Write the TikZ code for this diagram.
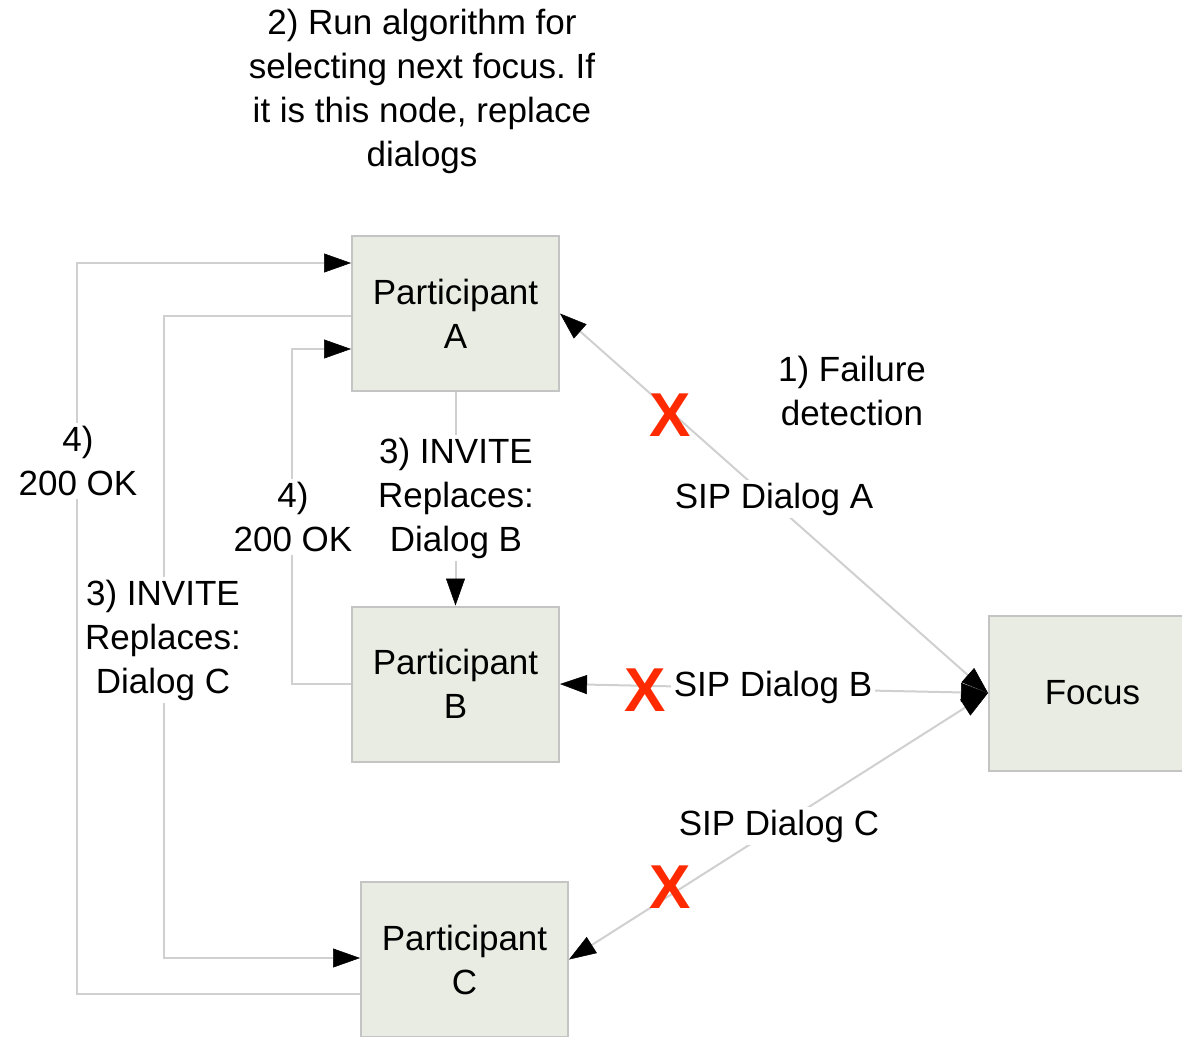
\documentclass[tikz,border=0pt]{standalone}
\usepackage{fontspec}
\setmainfont{Liberation Sans}
\usetikzlibrary{arrows.meta}
\definecolor{boxfill}{HTML}{E9ECE2}
\definecolor{boxline}{HTML}{C4C4C4}
\definecolor{linegray}{HTML}{D0D0D0}
\definecolor{xred}{HTML}{FF2A00}
\newcommand{\dfont}{\fontsize{35}{44}\selectfont}
\newcommand{\xfont}{\fontsize{62}{62}\selectfont\bfseries}
\frenchspacing
\begin{document}
\begin{tikzpicture}[x=1pt,y=-1pt,
  >={Triangle[length=27pt,width=19pt,color=black,fill=black,line width=0.5pt]},
  box/.style={draw=boxline,line width=2pt,fill=boxfill,minimum width=207pt,minimum height=155pt,inner sep=0pt,align=center,font=\dfont},
  conn/.style={draw=linegray,line width=2pt},
  lbl/.style={fill=white,align=center,inner sep=3pt,font=\dfont},
  txt/.style={align=center,inner sep=0pt,font=\dfont},
  xmark/.style={text=xred,inner sep=0pt,font=\xfont}]
\useasboundingbox (0,0) rectangle (1182,1036);
\fill[white] (0,0) rectangle (1182,1036);

\node[box] (A) at (455.5,313.5) {Participant\\A};
\node[box] (B) at (455.5,684) {Participant\\B};
\node[box] (C) at (464.5,959.5) {Participant\\C};
\node[box] (F) at (1092.5,693) {Focus};

% orthogonal connectors
\draw[conn,->] ([yshift=-34pt]C.west) -- ++(-283,0) |- ([yshift=50.5pt]A.west);
\draw[conn,->] ([yshift=-2.5pt]A.west) -- ++(-187,0) |- ([yshift=1.5pt]C.west);
\draw[conn,->] (B.west) -- ++(-59,0) |- ([yshift=-35.5pt]A.west);
\draw[conn,->] (A.south) -- (B.north);

% SIP dialogs
\draw[conn,<->] (F.west) -- (A.east);
\draw[conn,<->] (F.west) -- (B.east);
\draw[conn,<->] (F.west) -- (C.east);

% labels
\node[lbl] (l1) at (78,461) {4)\\200 OK};
\node[lbl] (l2) at (163,640) {3) INVITE\\Replaces:\\Dialog C};
\node[lbl] (l3) at (293,517) {4)\\200 OK};
\node[lbl] (l4) at (456,498) {3) INVITE\\Replaces:\\Dialog B};
\node[lbl] (sa) at (774,499) {SIP Dialog A};
\node[lbl] (sb) at (773,687) {SIP Dialog B};
\node[lbl] (sc) at (779,826) {SIP Dialog C};
\node[txt] (fd) at (852,391) {1) Failure\\detection};
\node[txt] (top) at (422,91) {2) Run algorithm for\\selecting next focus. If\\it is this node, replace\\dialogs};

% failure marks
\node[xmark] (x1) at (670,415) {X};
\node[xmark] (x2) at (645,690) {X};
\node[xmark] (x3) at (670,887) {X};
\end{tikzpicture}
\end{document}
